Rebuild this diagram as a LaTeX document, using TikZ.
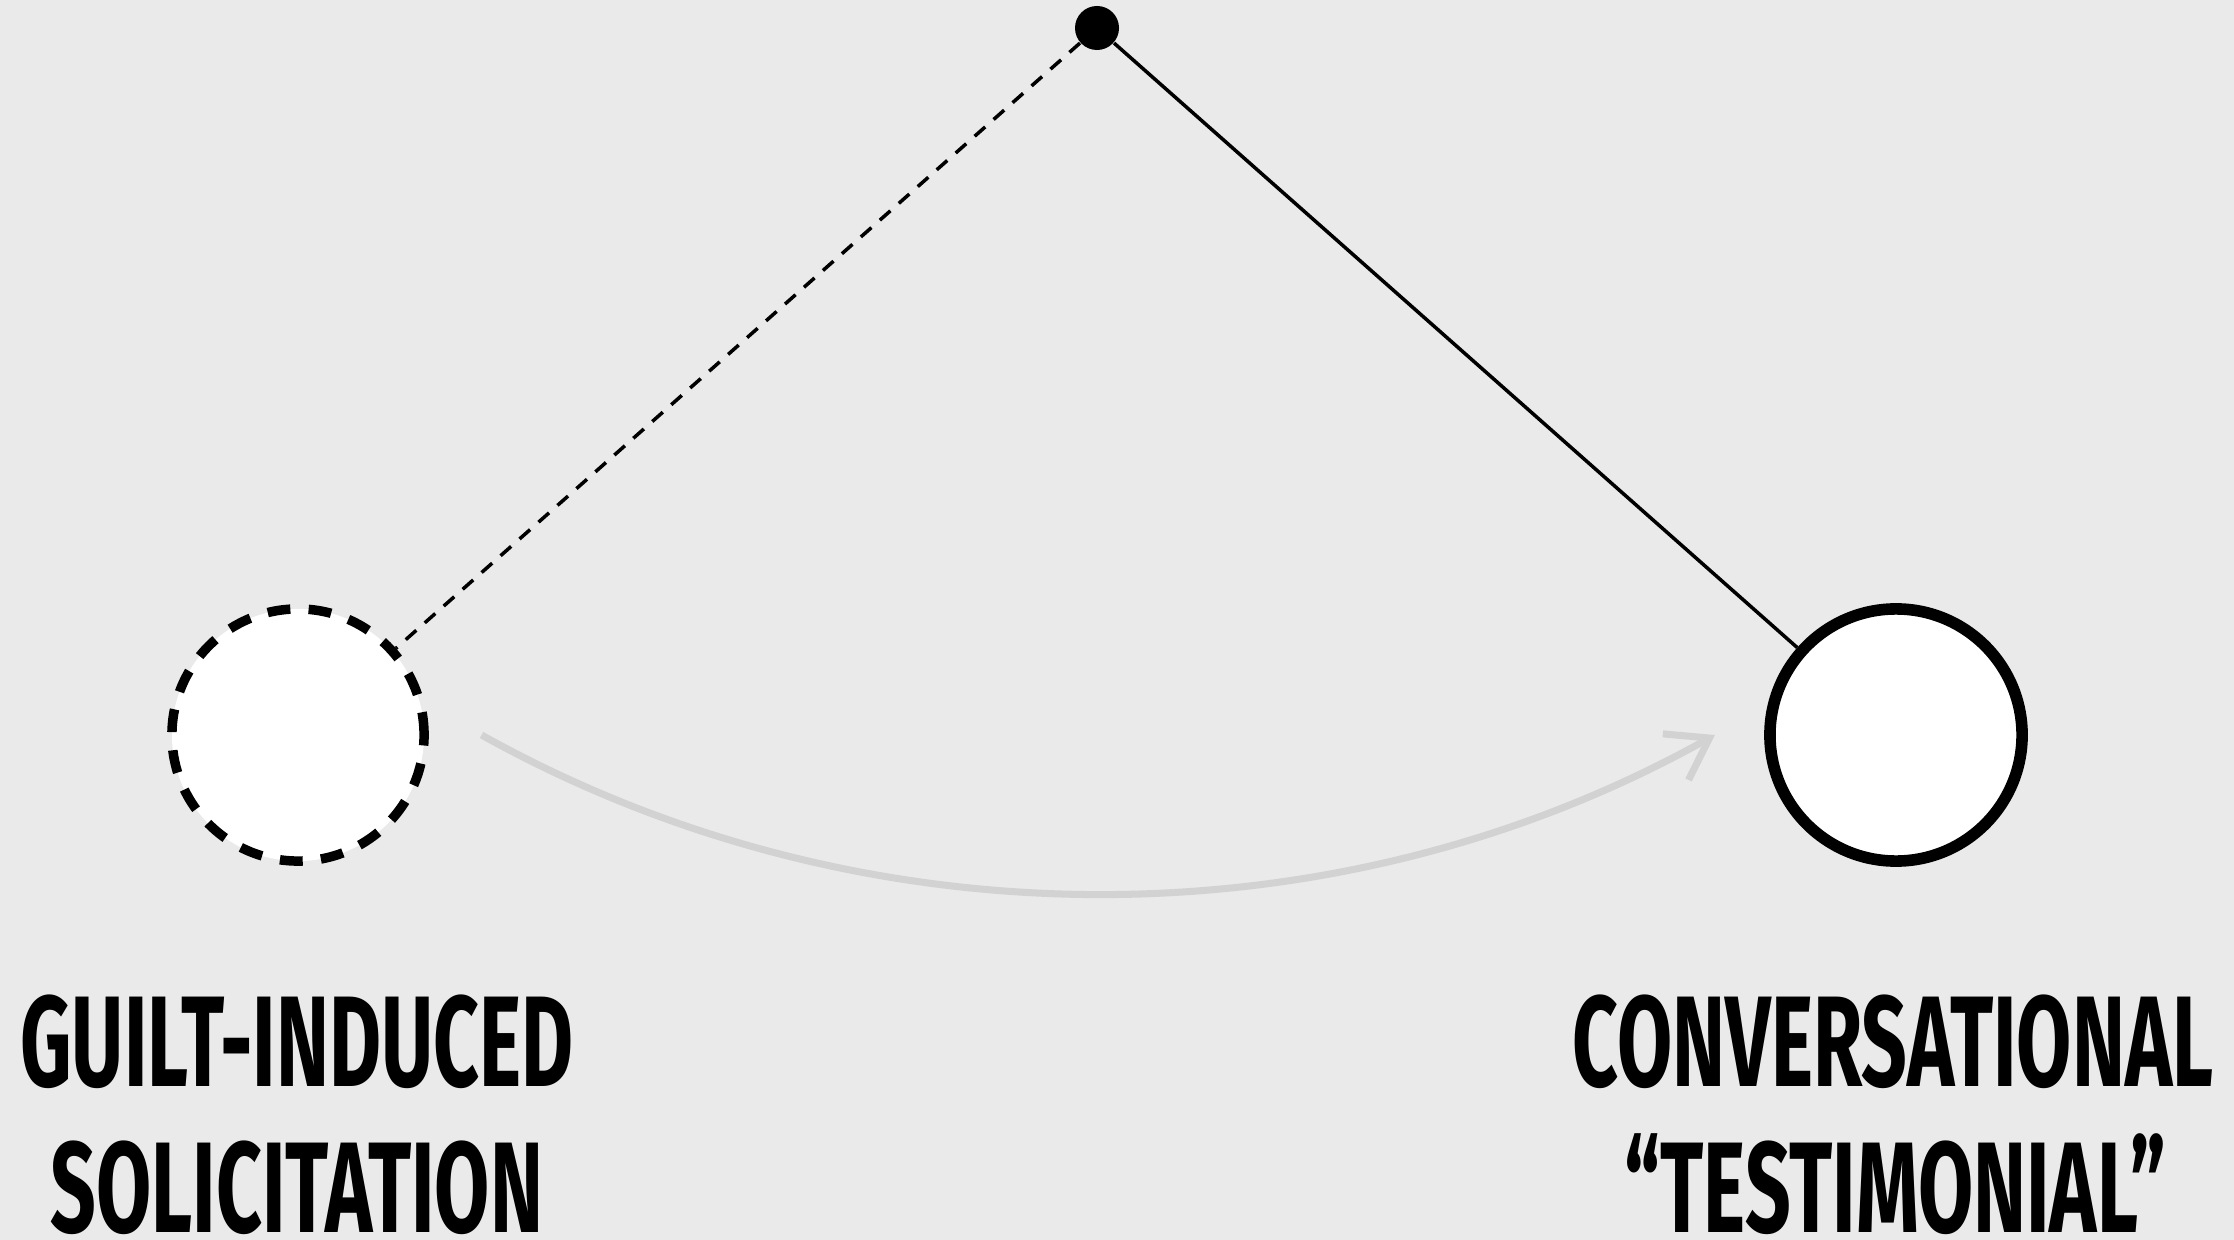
\documentclass[tikz,border=0pt]{standalone}
\usepackage{fontspec}
\newfontfamily\capsfont{Fira Sans}[FakeStretch=0.62]
\usetikzlibrary{arrows.meta, positioning}
\definecolor{paper}{RGB}{234,234,235}
\definecolor{flowgray}{RGB}{210,210,210}

\begin{document}
\begin{tikzpicture}[x=0.01cm, y=-0.01cm,
    pole/.style={circle, draw, fill=white, minimum size=2.52cm, inner sep=0pt},
    caps/.style={font=\capsfont\bfseries\fontsize{36.7}{40}\selectfont, inner sep=0pt, anchor=base}]
    \useasboundingbox (0,0) rectangle (2234,1240);
    \fill[paper] (0,0) rectangle (2234,1240);
    \node[circle, fill=black, minimum size=0.44cm, inner sep=0pt] (top) at (1097,28) {};
    \node[pole, line width=2.7pt, dash pattern=on 6.5pt off 5.2pt] (guilt) at (298,735) {};
    \node[pole, line width=3.3pt] (talk) at (1896,735) {};
    \draw[line width=1pt, dash pattern=on 4pt off 3.2pt] (top) -- (guilt);
    \draw[line width=1pt] (top) -- (talk);
    \coordinate (flowstart) at ([xshift=15pt]guilt.east);
    \coordinate (flowend) at ([xshift=-14pt]talk.west);
    \draw[flowgray, line width=2pt, -{Straight Barb[length=11pt,width=15pt]}]
        (flowstart) .. controls +(380,212) and +(-380,212) .. (flowend);
    \node[caps] (guilt1) at (297,1086) {GUILT-INDUCED};
    \node[caps] (guilt2) at (297,1232) {SOLICITATION};
    \node[caps] (talk1) at (1893,1086) {CONVERSATIONAL};
    \node[caps] (talk2) at (1895,1232) {“TESTIMONIAL”};
\end{tikzpicture}
\end{document}
